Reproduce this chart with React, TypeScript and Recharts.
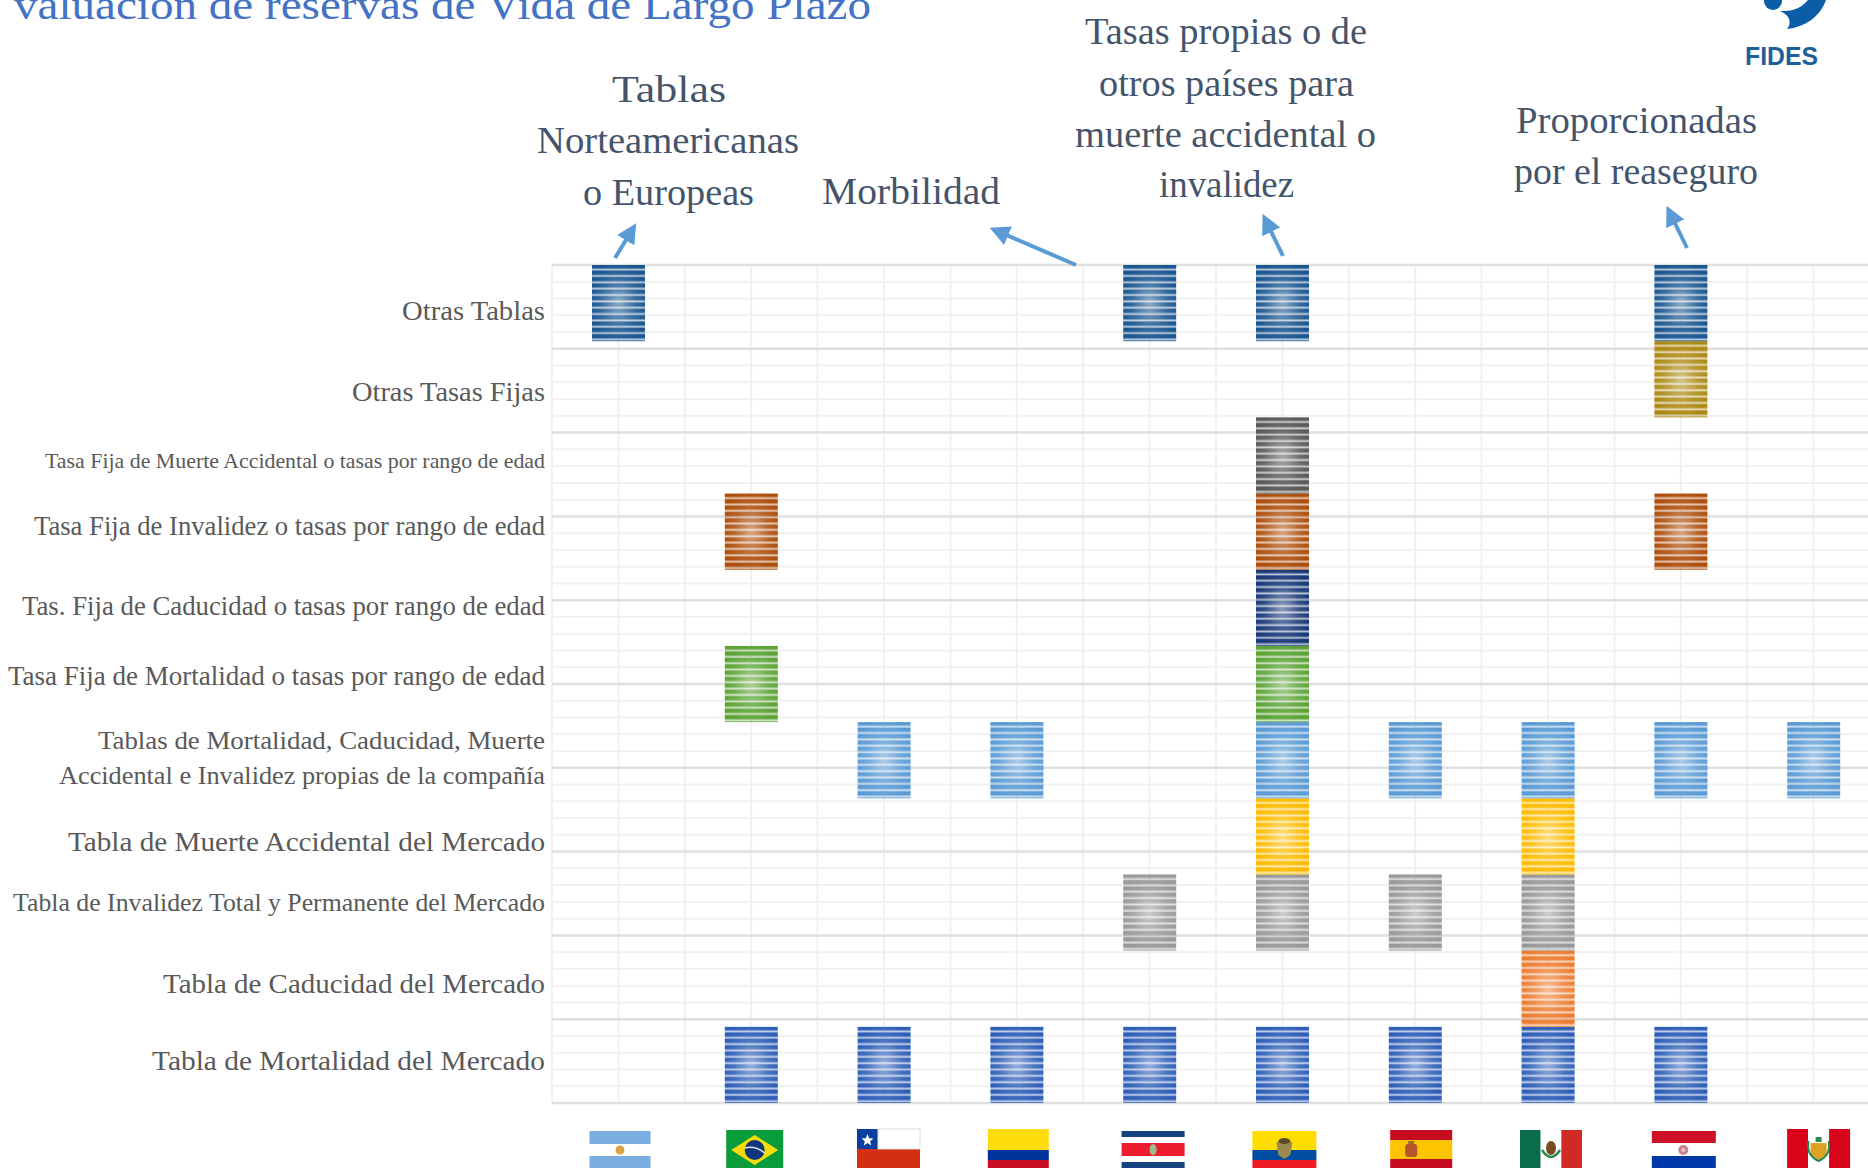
import { BarChart, Bar, XAxis, YAxis, CartesianGrid } from 'recharts';

const countries = ['AR', 'BR', 'CL', 'CO', 'CR', 'EC', 'ES', 'MX', 'PY', 'PE'];

// 1 = the country uses this kind of table, bottom row of the stack first
const mortalidadMercado = [0, 1, 1, 1, 1, 1, 1, 1, 1, 0];
const caducidadMercado = [0, 0, 0, 0, 0, 0, 0, 1, 0, 0];
const invalidezMercado = [0, 0, 0, 0, 1, 1, 1, 1, 0, 0];
const muerteMercado = [0, 0, 0, 0, 0, 1, 0, 1, 0, 0];
const propias = [0, 0, 1, 1, 0, 1, 1, 1, 1, 1];
const mortalidadFija = [0, 1, 0, 0, 0, 1, 0, 0, 0, 0];
const caducidadFija = [0, 0, 0, 0, 0, 1, 0, 0, 0, 0];
const invalidezFija = [0, 1, 0, 0, 0, 1, 0, 0, 1, 0];
const muerteFija = [0, 0, 0, 0, 0, 1, 0, 0, 0, 0];
const otrasTasas = [0, 0, 0, 0, 0, 0, 0, 0, 1, 0];
const otrasTablas = [1, 0, 0, 0, 1, 1, 0, 0, 1, 0];

const series = [
  { key: 'mortalidadMercado', values: mortalidadMercado, color: '#2f5fb8' },
  { key: 'caducidadMercado', values: caducidadMercado, color: '#ed7d31' },
  { key: 'invalidezMercado', values: invalidezMercado, color: '#999999' },
  { key: 'muerteMercado', values: muerteMercado, color: '#fdbb00' },
  { key: 'propias', values: propias, color: '#5b9bd5' },
  { key: 'mortalidadFija', values: mortalidadFija, color: '#5ca336' },
  { key: 'caducidadFija', values: caducidadFija, color: '#183878' },
  { key: 'invalidezFija', values: invalidezFija, color: '#ad4e0c' },
  { key: 'muerteFija', values: muerteFija, color: '#595959' },
  { key: 'otrasTasas', values: otrasTasas, color: '#ad8914' },
  { key: 'otrasTablas', values: otrasTablas, color: '#1a5690' },
];

const rowLabels = [
  ['Tabla de Mortalidad del Mercado'],
  ['Tabla de Caducidad del Mercado'],
  ['Tabla de Invalidez Total y Permanente del Mercado'],
  ['Tabla de Muerte Accidental del Mercado'],
  ['Tablas de Mortalidad, Caducidad, Muerte', 'Accidental e Invalidez propias de la compañía'],
  ['Tasa Fija de Mortalidad o tasas por rango de edad'],
  ['Tas. Fija de Caducidad o tasas por rango de edad'],
  ['Tasa Fija de Invalidez o tasas por rango de edad'],
  ['Tasa Fija de Muerte Accidental o tasas por rango de edad'],
  ['Otras Tasas Fijas'],
  ['Otras Tablas'],
];

// the labels are loose text boxes in the original, not centred on their rows
const labelStyle = [
  { size: 28, dy: [5], w: [393] },
  { size: 28, dy: [4.5], w: [382] },
  { size: 25, dy: [-2], w: [532] },
  { size: 28, dy: [15], w: [477] },
  { size: 26, dy: [-11, 24], w: [447, 486] },
  { size: 27, dy: [1], w: [537] },
  { size: 27, dy: [7], w: [523] },
  { size: 27, dy: [3], w: [511] },
  { size: 22, dy: [13], w: [500] },
  { size: 28, dy: [22], w: [193] },
  { size: 28, dy: [17], w: [143] },
];

const chartData = countries.map((code, i) => {
  const row: any = { code, x: i + 0.5 };
  series.forEach((s) => {
    row[s.key] = s.values[i];
    row[s.key + 'Gap'] = 1 - s.values[i];
  });
  return row;
});

const xTicks = countries.map((_, i) => i + 0.5);
const yTicks = rowLabels.map((_, i) => i + 0.5);
const majorY = [0, 1.1, 2.2, 3.3, 4.4, 5.5, 6.6, 7.7, 8.8, 9.9, 11];
const minorY = Array.from({ length: 51 }, (_, i) => i * 0.22);
const halfX = Array.from({ length: 21 }, (_, i) => i * 0.5);

const FONT = '"Liberation Serif", serif';

function StripedBar(props: any) {
  const { x, y, width, height, id } = props;
  if (!height || height <= 0) return null;
  return (
    <g style={{ filter: 'blur(0.5px)' }}>
      <rect x={x} y={y} width={width} height={height} fill={`url(#stripe-${id})`} />
      <rect x={x} y={y} width={width} height={height} fill="url(#glow)" />
    </g>
  );
}

function RowTick(props: any) {
  const { x, y, index } = props;
  const lines = rowLabels[index];
  const st = labelStyle[index];
  return (
    <g>
      {lines.map((line, k) => (
        <text
          key={k}
          x={x - 7}
          y={y + st.dy[k]}
          textAnchor="end"
          fontFamily={FONT}
          fontSize={st.size}
          fill="#595959"
          textLength={st.w[k]}
          lengthAdjust="spacingAndGlyphs"
        >
          {line}
        </text>
      ))}
    </g>
  );
}

const flagBox: any = {
  AR: { dx: 1.6, top: 1131, w: 61 },
  BR: { dx: 3.5, top: 1130, w: 57 },
  CL: { dx: 4.5, top: 1129, w: 63 },
  CO: { dx: 1.5, top: 1129, w: 61 },
  CR: { dx: 3.5, top: 1131, w: 63 },
  EC: { dx: 2, top: 1131, w: 64 },
  ES: { dx: 6, top: 1130, w: 62 },
  MX: { dx: 3, top: 1130, w: 62 },
  PY: { dx: 3, top: 1131, w: 64 },
  PE: { dx: 5, top: 1129, w: 63 },
};

function hBands(w: number, bands: [string, number][]) {
  let y = 0;
  return bands.map(([c, h], i) => {
    const r = <rect key={i} x={0} y={y} width={w} height={h} fill={c} />;
    y += h;
    return r;
  });
}

function Flag({ code, w }: { code: string; w: number }) {
  const third = w / 3;
  if (code === 'AR')
    return (
      <g>
        {hBands(w, [['#7aaee0', 13], ['#ffffff', 12], ['#7aaee0', 18]])}
        <circle cx={w / 2} cy={19} r={4.5} fill="#d9a441" />
      </g>
    );
  if (code === 'BR')
    return (
      <g>
        <rect width={w} height={44} fill="#0a9c3a" />
        <path d={`M${w / 2} 5 L${w - 5} 20 L${w / 2} 35 L5 20 Z`} fill="#f7dc0a" />
        <circle cx={w / 2} cy={20} r={10} fill="#10357f" />
        <path d={`M${w / 2 - 10} 18 Q${w / 2} 15 ${w / 2 + 10} 23`} stroke="#dfe7e8" strokeWidth={1.5} fill="none" />
      </g>
    );
  if (code === 'CL')
    return (
      <g>
        {hBands(w, [['#ffffff', 20], ['#d52f12', 24]])}
        <rect width={21} height={20} fill="#0b3ea3" />
        <path d="M10.5 5 L12.2 9.2 L16.5 9.5 L13.2 12.2 L14.2 16.4 L10.5 14.1 L6.8 16.4 L7.8 12.2 L4.5 9.5 L8.8 9.2 Z" fill="#ffffff" />
        <rect x={21} width={w - 21} height={20} fill="none" stroke="#dddddd" />
      </g>
    );
  if (code === 'CO') return <g>{hBands(w, [['#ffdc0e', 21], ['#00349a', 10], ['#c80e25', 13]])}</g>;
  if (code === 'CR')
    return (
      <g>
        {hBands(w, [['#14427f', 6], ['#ffffff', 6], ['#ee1c2f', 13], ['#ffffff', 6], ['#14427f', 13]])}
        <ellipse cx={w / 2} cy={18.5} rx={3.5} ry={5.5} fill="#9fb98f" />
      </g>
    );
  if (code === 'EC')
    return (
      <g>
        {hBands(w, [['#ffdd00', 19], ['#034ea2', 10], ['#ed1c24', 14]])}
        <path d={`M${w / 2 - 8} 11 L${w / 2 + 8} 11 L${w / 2 + 6} 24 L${w / 2} 28 L${w / 2 - 6} 24 Z`} fill="#9a8a4e" />
        <ellipse cx={w / 2} cy={10} rx={6} ry={3} fill="#5c4a2a" />
      </g>
    );
  if (code === 'ES')
    return (
      <g>
        {hBands(w, [['#c60b1e', 10], ['#ffc400', 19], ['#c60b1e', 15]])}
        <rect x={15} y={14} width={12} height={13} rx={3} fill="#b5552c" />
        <rect x={18} y={11} width={6} height={3} fill="#9a6b30" />
      </g>
    );
  if (code === 'MX')
    return (
      <g>
        <rect width={third} height={44} fill="#0a6c4a" />
        <rect x={third} width={third} height={44} fill="#ffffff" />
        <rect x={2 * third} width={third} height={44} fill="#d02a25" />
        <ellipse cx={w / 2} cy={18} rx={5} ry={7} fill="#7a4a20" />
        <path d={`M${w / 2 - 9} 20 Q${w / 2} 34 ${w / 2 + 9} 20`} stroke="#2a8a50" strokeWidth={2.5} fill="none" />
      </g>
    );
  if (code === 'PY')
    return (
      <g>
        {hBands(w, [['#ce1126', 12], ['#ffffff', 13], ['#0038a8', 18]])}
        <circle cx={w / 2 - 0.5} cy={19} r={5} fill="#c9838a" />
        <circle cx={w / 2 - 0.5} cy={19} r={2} fill="#e8c7c9" />
      </g>
    );
  return (
    <g>
      <rect width={third} height={44} fill="#d80419" />
      <rect x={third} width={third} height={44} fill="#ffffff" />
      <rect x={2 * third} width={third} height={44} fill="#d80419" />
      <path d={`M${w / 2 - 8} 14 L${w / 2 + 8} 14 L${w / 2 + 8} 26 L${w / 2} 31 L${w / 2 - 8} 26 Z`} fill="#e0a020" />
      <path d={`M${w / 2 - 10} 12 Q${w / 2 - 13} 26 ${w / 2} 32 Q${w / 2 + 13} 26 ${w / 2 + 10} 12`} stroke="#1f8a50" strokeWidth={2} fill="none" />
      <rect x={w / 2 - 3} y={8} width={6} height={5} fill="#2f8a50" />
    </g>
  );
}

function FlagTick(props: any) {
  const { x, index } = props;
  const code = countries[index];
  const box = flagBox[code];
  return (
    <g transform={`translate(${x + box.dx - box.w / 2},${box.top})`}>
      <Flag code={code} w={box.w} />
    </g>
  );
}

const noteLines = [
  { x: 669, y: 102, w: 114, t: 'Tablas' },
  { x: 668, y: 153, w: 262, t: 'Norteamericanas' },
  { x: 668.5, y: 205, w: 171, t: 'o Europeas' },
  { x: 911, y: 204, w: 178, t: 'Morbilidad' },
  { x: 1226, y: 44, w: 282, t: 'Tasas propias o de' },
  { x: 1226.5, y: 96, w: 255, t: 'otros países para' },
  { x: 1225.5, y: 147, w: 301, t: 'muerte accidental o' },
  { x: 1226.5, y: 197, w: 135, t: 'invalidez' },
  { x: 1636.5, y: 133, w: 241, t: 'Proporcionadas' },
  { x: 1636, y: 184, w: 244, t: 'por el reaseguro' },
];

const arrows = [
  [615, 258, 632, 230],
  [1076, 265, 997, 231],
  [1283, 256, 1266, 221],
  [1687, 248, 1670, 213],
];

function Overlay() {
  return (
    <svg width={1868} height={1168} style={{ position: 'absolute', left: 0, top: 0, pointerEvents: 'none' }}>
      <defs>
        <marker id="arrowHead" markerWidth="5" markerHeight="5" refX="3" refY="2.5" orient="auto">
          <path d="M0 0 L5 2.5 L0 5 Z" fill="#5b9bd5" />
        </marker>
      </defs>
      <text x={14} y={19} fontFamily={FONT} fontSize={42} fill="#4472c4" textLength={857} lengthAdjust="spacingAndGlyphs">
        valuación de reservas de Vida de Largo Plazo
      </text>
      {noteLines.map((n) => (
        <text key={n.t} x={n.x} y={n.y} textAnchor="middle" fontFamily={FONT} fontSize={38} fill="#44546a" textLength={n.w} lengthAdjust="spacingAndGlyphs">
          {n.t}
        </text>
      ))}
      {arrows.map((a, i) => (
        <line key={i} x1={a[0]} y1={a[1]} x2={a[2]} y2={a[3]} stroke="#5b9bd5" strokeWidth={4} markerEnd="url(#arrowHead)" />
      ))}
      <circle cx={1773} cy={1} r={9} fill="#0a5ea8" />
      <path d="M1826 0 C1820 17 1805 27 1787 29 C1792 23 1790 15 1780 11 C1795 12 1803 6 1808 0 Z" fill="#0a5ea8" />
      <text x={1745} y={65} fontFamily='"Liberation Sans", sans-serif' fontWeight={700} fontSize={25} fill="#1f5f99" textLength={73} lengthAdjust="spacingAndGlyphs">
        FIDES
      </text>
    </svg>
  );
}

export default function App() {
  return (
    <div style={{ position: 'absolute', left: 0, top: 0, width: 1868, height: 1168, overflow: 'hidden', background: '#fff' }}>
      <BarChart
        width={1891}
        height={1168}
        data={chartData}
        margin={{ top: 265, right: 11, bottom: 0, left: 0 }}
        barSize={53}
      >
        <defs>
          {series.map((s) => (
            <linearGradient key={s.key} id={`stripe-${s.key}`} x1="0" y1="0" x2="0" y2={1 / 12} spreadMethod="repeat">
              <stop offset="0" stopColor={s.color} />
              <stop offset="0.4" stopColor={s.color} />
              <stop offset="0.75" stopColor={s.color} stopOpacity={0.3} />
              <stop offset="1" stopColor={s.color} />
            </linearGradient>
          ))}
          <radialGradient id="glow" cx="0.5" cy="0.5" r="0.55">
            <stop offset="0" stopColor="#ffffff" stopOpacity={0.5} />
            <stop offset="0.6" stopColor="#ffffff" stopOpacity={0.12} />
            <stop offset="1" stopColor="#ffffff" stopOpacity={0} />
          </radialGradient>
        </defs>
        <CartesianGrid horizontalValues={minorY} verticalValues={halfX} stroke="#f1f1f1" strokeWidth={2} />
        <CartesianGrid horizontalValues={majorY} vertical={false} stroke="#e0e0e0" strokeWidth={2.5} />
        <XAxis
          type="number"
          dataKey="x"
          domain={[0, 10]}
          ticks={xTicks}
          height={65}
          axisLine={false}
          tickLine={false}
          interval={0}
          tick={<FlagTick />}
        />
        <YAxis
          type="number"
          domain={[0, 11]}
          ticks={yTicks}
          width={552}
          axisLine={false}
          tickLine={false}
          tickSize={0}
          tickMargin={0}
          interval={0}
          tick={<RowTick />}
        />
        {series.flatMap((s) => [
          <Bar
            key={s.key}
            dataKey={s.key}
            stackId="a"
            isAnimationActive={false}
            shape={<StripedBar id={s.key} />}
          />,
          <Bar
            key={s.key + 'Gap'}
            dataKey={s.key + 'Gap'}
            stackId="a"
            fill="transparent"
            isAnimationActive={false}
          />,
        ])}
      </BarChart>
      <Overlay />
    </div>
  );
}
